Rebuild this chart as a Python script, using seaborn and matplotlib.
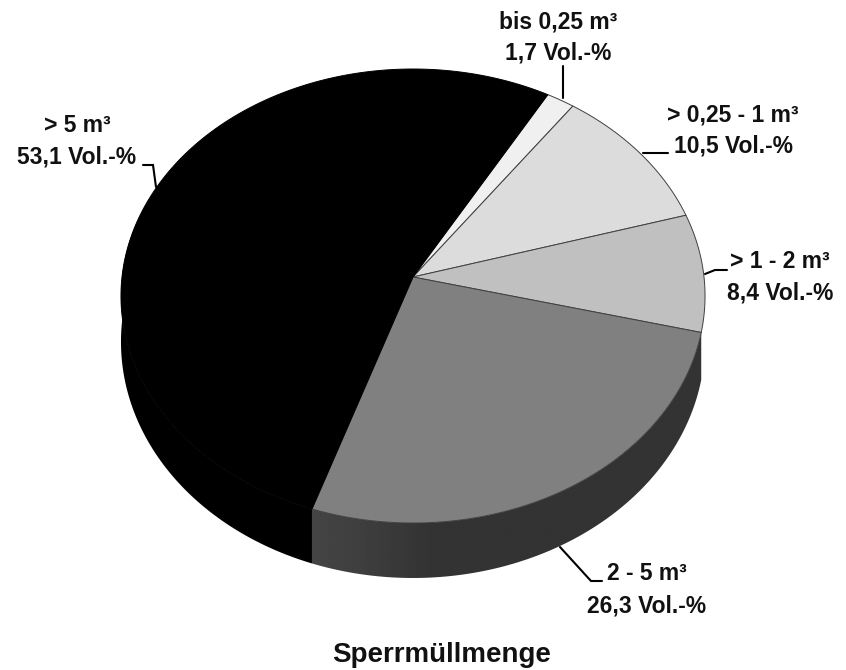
import numpy as np
import matplotlib
matplotlib.use("Agg")
import matplotlib.pyplot as plt
from matplotlib.patches import Polygon
import seaborn as sns

categories = ["bis 0,25 m³", "> 0,25 - 1 m³", "> 1 - 2 m³", "2 - 5 m³", "> 5 m³"]
values = [1.7, 10.5, 8.4, 26.3, 53.1]
value_labels = ["1,7 Vol.-%", "10,5 Vol.-%", "8,4 Vol.-%", "26,3 Vol.-%", "53,1 Vol.-%"]
title = "Sperrmüllmenge"
greys = ["#f0f0f0", "#dcdcdc", "#c0c0c0", "#808080", "#000000"]

sns.set_theme(style="white")
plt.rcParams["font.family"] = ["Liberation Sans", "DejaVu Sans"]
palette = sns.color_palette(greys)

fig = plt.figure(figsize=(8.46, 6.7), dpi=100)
ax = fig.add_axes([0, 0, 1, 1])

# perspective projection of the pie disc onto the page
CX, CY, K, A, B = 413.0, 277.0, 0.0837, 225.4, 291.0
START = 29.8


def project(bearing):
    t = np.radians(bearing)
    u, v = np.sin(t), np.cos(t)
    w = 1 + K * v
    return CX + B * u / w, CY - A * v / w


def wall_depth(bearing):
    v = np.cos(np.radians(bearing))
    return 45.0 - 10.0 * v


fractions = np.array(values) / sum(values) * 360
edges = START + np.concatenate([[0], np.cumsum(fractions)])

# side wall of the 2 - 5 m³ slice, with a smooth horizontal shading
bb = np.linspace(edges[3], edges[4], 200)
xt, yt = project(bb)
yb = yt + wall_depth(bb)
wall = Polygon(np.c_[np.r_[xt, xt[::-1]], np.r_[yt, yb[::-1]]], closed=True,
               transform=ax.transData, facecolor="none", edgecolor="none")
ax.add_patch(wall)
x_grad = np.linspace(xt.min(), xt.max(), 400)
shade = np.interp(x_grad, [xt.min(), xt.min() + 50, xt.min() + 120, xt.max()],
                  [0.27, 0.245, 0.20, 0.20])
img = ax.imshow(shade[None, :], cmap="gray", vmin=0, vmax=1, aspect="auto",
                extent=(xt.min(), xt.max(), yb.max(), yt.min()), zorder=1,
                interpolation="bilinear")
img.set_clip_path(wall)

# side wall of the > 5 m³ slice
bb = np.linspace(edges[4], 285, 150)
xt, yt = project(bb)
yb = yt + wall_depth(bb)
ax.fill(np.r_[xt, xt[::-1]], np.r_[yt, yb[::-1]], color="black", lw=0, zorder=1)

# top face
for i, col in enumerate(palette):
    bb = np.linspace(edges[i], edges[i + 1], 200)
    x, y = project(bb)
    edge = "black" if i == 4 else "#404040"
    ax.fill(np.r_[CX, x], np.r_[CY, y], facecolor=col,
            edgecolor=edge, lw=0.7, joinstyle="round", zorder=2)

# leader lines
leaders = [
    ([563, 563], [66, 98]),
    ([643, 668], [153, 153]),
    ([705, 715, 727], [274, 270, 270]),
    ([560, 591, 602], [547, 581, 581]),
    ([143, 153, 156], [165, 165, 187]),
]
for lx, ly in leaders:
    ax.plot(lx, ly, color="black", lw=1.5, zorder=3, solid_joinstyle="miter")

# labels
anchors = [(558, 22, 53), (733, 115, 146), (780, 262, 293), (647, 574, 606), (77, 126, 157)]
for (x, y1, y2), cat, val in zip(anchors, categories, value_labels):
    for y, s in ((y1, cat), (y2, val)):
        ax.text(x, y, s, ha="center", va="center", fontsize=16.5,
                fontweight="bold", color="#111111", zorder=4)
ax.text(442, 655, title, ha="center", va="center", fontsize=20,
        fontweight="bold", color="#111111")

ax.set_xlim(0, 846)
ax.set_ylim(670, 0)
ax.axis("off")

fig.savefig("out.png", dpi=100)
